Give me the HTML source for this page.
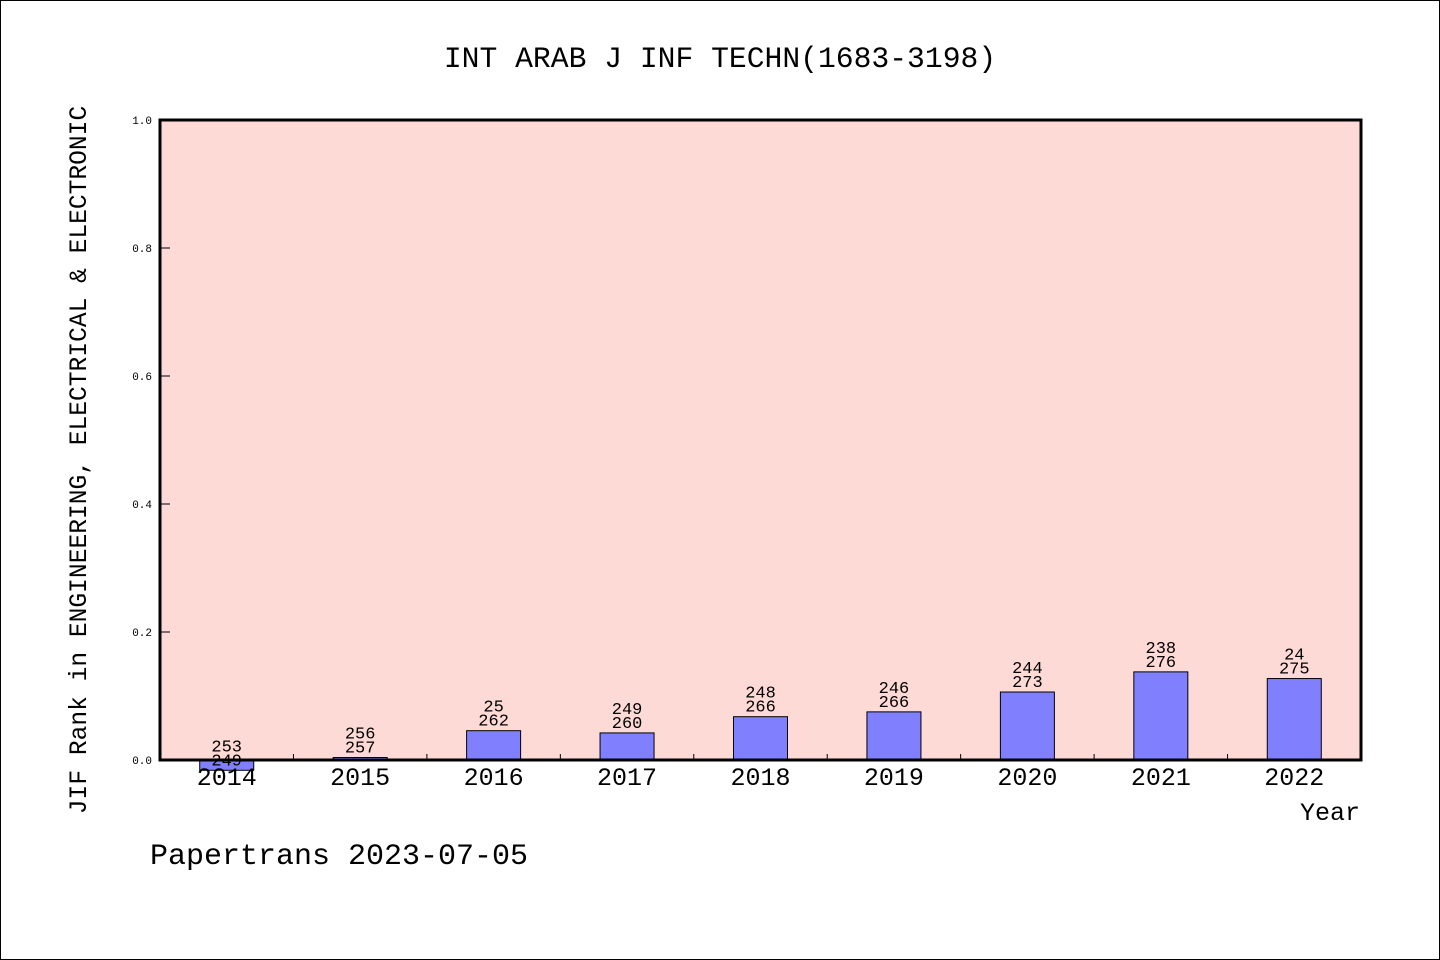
<!DOCTYPE html>
<html><head><meta charset="utf-8">
<style>
html,body{margin:0;padding:0;background:#fff;}
svg{display:block;}
text{font-family:"Liberation Mono","DejaVu Sans Mono",monospace;fill:#000;}
</style></head>
<body>
<svg width="1440" height="960" viewBox="0 0 1440 960">
<rect x="0.5" y="0.5" width="1439" height="959" fill="#fff" stroke="#000"/>
<text x="720" y="67" text-anchor="middle" font-size="29.7">INT ARAB J INF TECHN(1683-3198)</text>
<rect x="160" y="120" width="1201" height="640" fill="#fedad6"/>
<g id="bars"></g>
<g id="axes"></g>
<rect x="160" y="120" width="1201" height="640" fill="none" stroke="#000" stroke-width="3"/>
<text x="1360" y="820" text-anchor="end" font-size="25">Year</text>
<text transform="translate(86,460) rotate(-90)" text-anchor="middle" font-size="24.6">JIF Rank in ENGINEERING, ELECTRICAL &amp; ELECTRONIC</text>
<text x="150" y="864" font-size="30">Papertrans 2023-07-05</text>
</svg>
<script>
const years = ["2014","2015","2016","2017","2018","2019","2020","2021","2022"];
const ranks = [253,256,250,249,248,246,244,238,240];
const rankLabels = ["253","256","25","249","248","246","244","238","24"];
const totals = [249,257,262,260,266,266,273,276,275];
const yTicks = [0,0.2,0.4,0.6,0.8,1.0];
const yTickLabels = ["0.0","0.2","0.4","0.6","0.8","1.0"];

const X0=160,X1=1361,Y0=760,Y1=120;
const band=(X1-X0)/years.length;
const xc=i=>X0+band*(i+0.5);
const y=v=>Y0-(v)*(Y0-Y1);
const NS="http://www.w3.org/2000/svg";
function mk(tag,attrs,parent){const e=document.createElementNS(NS,tag);for(const k in attrs)e.setAttribute(k,attrs[k]);parent.appendChild(e);return e;}
const bars=document.getElementById('bars'),axes=document.getElementById('axes');

years.forEach((yr,i)=>{
  const v=1-ranks[i]/totals[i];
  const top=Math.min(y(v),Y0),bot=Math.max(y(v),Y0);
  const r=mk('rect',{x:xc(i)-27,y:top,width:54,height:Math.max(bot-top,0.5),fill:'#8080ff',stroke:'#000','stroke-width':1},bars);
  
  
  const ly=y(v);
  const t1=mk('text',{x:xc(i),y:ly-19,'text-anchor':'middle','font-size':17},bars);
  t1.textContent=rankLabels[i];
  
  
  const t2=mk('text',{x:xc(i),y:ly-5,'text-anchor':'middle','font-size':17},bars);
  t2.textContent=String(totals[i]);
  
  
  const xl=mk('text',{x:xc(i),y:785,'text-anchor':'middle','font-size':25},axes);
  xl.textContent=yr;
  
  
  if(i>0){
    const tk=mk('line',{x1:X0+band*i,x2:X0+band*i,y1:Y0,y2:Y0-6,stroke:'#000','stroke-width':1},axes);
    
    
  }
});
yTicks.forEach((v,i)=>{
  const tk=mk('line',{x1:X0,x2:X0+10,y1:y(v),y2:y(v),stroke:'#000','stroke-width':1},axes);
  
  
  const tl=mk('text',{x:X0-8,y:y(v)+4,'text-anchor':'end','font-size':11},axes);
  tl.textContent=yTickLabels[i];
  
  
});
</script>
</body></html>
